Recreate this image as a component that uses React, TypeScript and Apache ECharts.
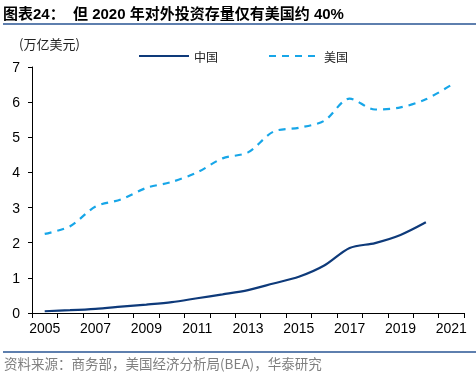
import React, { useEffect, useRef } from "react";
import * as echarts from "echarts";

const years = ["2005","2006","2007","2008","2009","2010","2011","2012","2013","2014","2015","2016","2017","2018","2019","2020","2021"];
const chinaValues = [0.05, 0.08, 0.12, 0.18, 0.24, 0.31, 0.42, 0.53, 0.65, 0.84, 1.03, 1.35, 1.85, 1.99, 2.22, 2.58, null];
const usValues = [2.25, 2.47, 3.03, 3.23, 3.56, 3.73, 4.0, 4.4, 4.57, 5.16, 5.27, 5.47, 6.1, 5.79, 5.85, 6.08, 6.49];
const yTicks = { min: 0, max: 7, interval: 1 };

const titleText = "图表24：  但 2020 年对外投资存量仅有美国约 40%";
const unitText = "(万亿美元)";
const sourceText = "资料来源：商务部，美国经济分析局(BEA)，华泰研究";

export default function App() {
  const ref = useRef<HTMLDivElement>(null);
  useEffect(() => {
    if (!ref.current) return;
    const chart = echarts.init(ref.current, null, { renderer: "svg" });
    const font = "Liberation Sans, Arial, Noto Sans CJK SC, sans-serif";
    chart.setOption({
      animation: false,
      textStyle: { fontFamily: font },
      grid: { left: 32, right: 12, top: 67, bottom: 66 },
      legend: {
        left: 133,
        top: 45,
        itemWidth: 50,
        itemHeight: 10,
        itemGap: 50,
        itemStyle: { opacity: 0 },
        textStyle: { fontSize: 12, color: "#222", fontFamily: "Noto Sans CJK SC" },
        data: ["中国", "美国"],
      },
      xAxis: {
        type: "category",
        data: years,
        boundaryGap: true,
        axisLine: { lineStyle: { color: "#000", width: 1 } },
        axisTick: { show: true, length: 5, lineStyle: { color: "#000" }, alignWithLabel: false, interval: 0 },
        axisLabel: { interval: 1, color: "#000", fontSize: 14, margin: 8, fontFamily: font },
        splitLine: { show: false },
      },
      yAxis: {
        type: "value",
        min: yTicks.min,
        max: yTicks.max,
        interval: yTicks.interval,
        axisLine: { show: true, lineStyle: { color: "#000", width: 1 } },
        axisTick: { show: true, length: 4, lineStyle: { color: "#000" } },
        axisLabel: { color: "#000", fontSize: 14, margin: 12, fontFamily: font },
        splitLine: { show: false },
      },
      series: [
        {
          name: "中国",
          type: "line",
          data: chinaValues,
          smooth: 0.3,
          symbol: "none",
          lineStyle: { color: "#0E3A7A", width: 2.2 },
          itemStyle: { color: "#0E3A7A" },
        },
        {
          name: "美国",
          type: "line",
          data: usValues,
          smooth: 0.3,
          symbol: "none",
          lineStyle: { color: "#17A6E8", width: 2.2, type: [7, 6] },
          itemStyle: { color: "#17A6E8" },
        },
      ],
      graphic: [
        {
          type: "text",
          left: 3,
          top: 6,
          style: { text: titleText, fontSize: 15, fontWeight: "bold", fill: "#000", fontFamily: "Liberation Sans, Noto Sans CJK SC" },
        },
        {
          type: "rect",
          shape: { x: 3, y: 23, width: 473, height: 2 },
          style: { fill: "#5E7FAE" },
        },
        {
          type: "text",
          left: 19,
          top: 37,
          style: { text: unitText, fontSize: 13, fill: "#222", fontFamily: "Noto Sans CJK SC" },
        },
        {
          type: "rect",
          shape: { x: 3, y: 351, width: 473, height: 2 },
          style: { fill: "#5E7FAE" },
        },
        {
          type: "text",
          left: 4,
          top: 356,
          style: { text: sourceText, fontSize: 13.5, fill: "#7F7F7F", fontFamily: "Noto Sans CJK SC" },
        },
      ],
    });
    return () => chart.dispose();
  }, []);
  return <div ref={ref} style={{ width: 476, height: 379, position: "fixed", left: 0, top: 0 }} />;
}
